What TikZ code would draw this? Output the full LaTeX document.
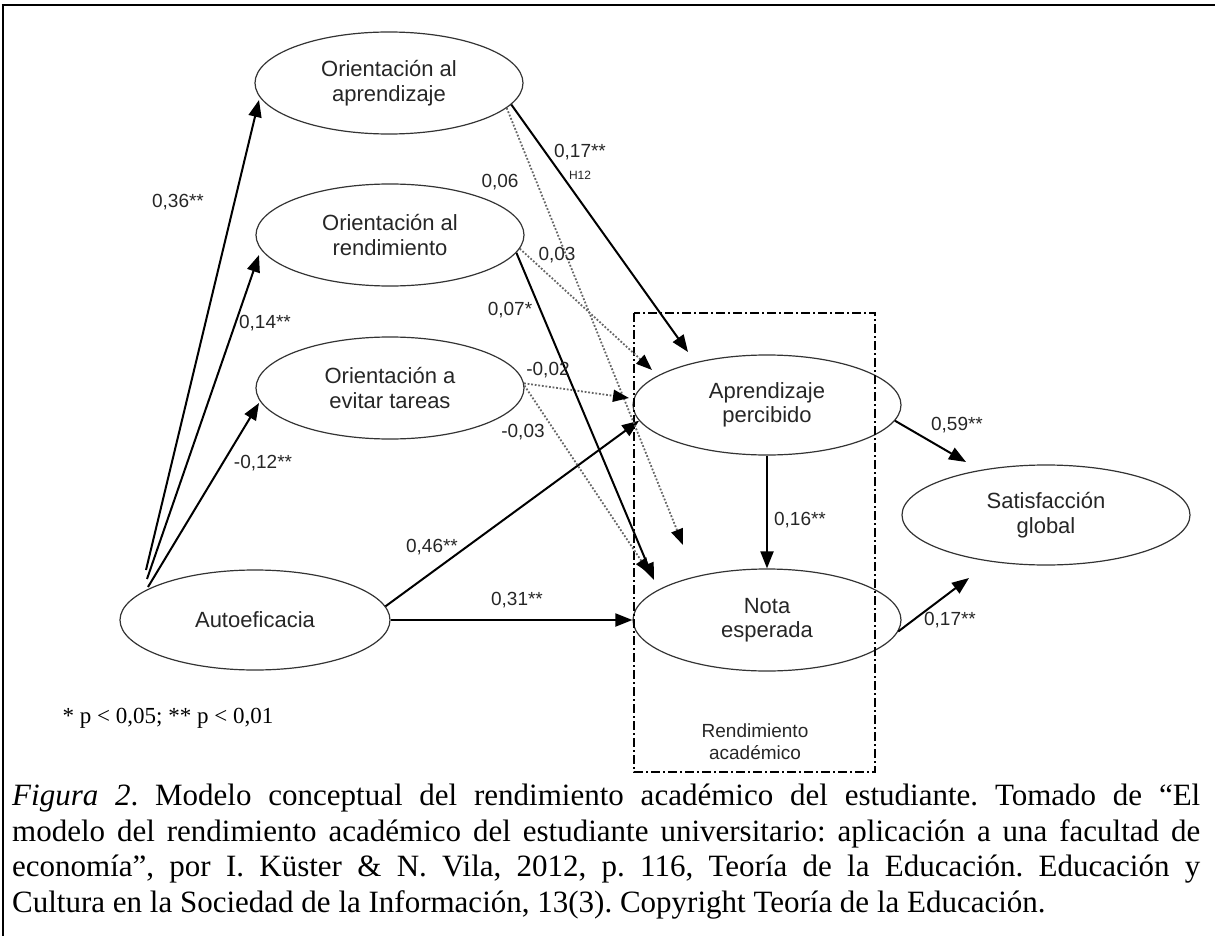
\documentclass[tikz,border=0pt]{standalone}
\usepackage{fontspec}
\setmainfont{Liberation Serif}
\newfontfamily\arialf{Liberation Sans}
\usetikzlibrary{arrows.meta,shapes.geometric}
\frenchspacing
\begin{document}
\begin{tikzpicture}[x=1pt,y=-1pt,
  ell/.style={draw=black!80, line width=1.2pt, ellipse, inner sep=0pt,
    minimum width=268pt, minimum height=102pt, align=center,
    font=\arialf\fontsize{22}{24.5}\selectfont, text=black!85},
  lbl/.style={font=\arialf\fontsize{19}{21}\selectfont, text=black!85, inner sep=0pt},
  solidarrow/.style={line width=2pt, draw=black, -{Triangle[length=17pt,width=13pt]}},
  dotarrow/.style={line width=1.8pt, draw=black!60, dash pattern=on 1.8pt off 1.8pt,
    -{Triangle[length=16pt,width=12pt,color=black]}},
  regionbox/.style={draw=black, line width=1.2pt, dash pattern=on 9pt off 3pt on 2pt off 3pt}
]
\useasboundingbox (0,0) rectangle (1215,936);
% frame
\draw[line width=2.6pt] (1.5,5) -- (1215,5);
\draw[line width=2pt] (3,5) -- (3,936);

% ellipses
\node[ell] (o1) at (389,83) {Orientación al\\aprendizaje};
\node[ell] (o2) at (390,235) {Orientación al\\rendimiento};
\node[ell] (o3) at (390,388) {Orientación a\\evitar tareas};
\node[ell, minimum width=270pt, minimum height=100pt] (auto) at (255,620) {Autoeficacia};
\node[ell, minimum height=100pt] (apr) at (767,405) {Aprendizaje\\percibido};
\node[ell] (nota) at (767,620) {Nota\\esperada};
\node[ell, minimum width=288pt, minimum height=100pt] (sat) at (1046,515) {Satisfacción\\global};

% dash-dot region
\draw[regionbox] (634,313) rectangle (875,772);
\node[font=\arialf\fontsize{19}{22}\selectfont, align=center, text=black!85] (rend) at (755,742) {Rendimiento\\académico};

% start/end coordinates
\coordinate (s1) at (146,570);
\coordinate (s2) at (147,579);
\coordinate (s3) at (148,587);
\coordinate (e1) at (259,100);
\coordinate (e2) at (259,255);
\coordinate (e3) at (259,403);
\coordinate (tA) at (688,352);
\coordinate (tB) at (683,545);
\coordinate (tC) at (652,370);
\coordinate (tD) at (654,580);
\coordinate (tE) at (629,398);
\coordinate (tF) at (650,574);
\coordinate (tG) at (966,462);
\coordinate (tH) at (969,578);

% autoeficacia arrows
\draw[solidarrow] (s1) -- (e1);
\draw[solidarrow] (s2) -- (e2);
\draw[solidarrow] (s3) -- (e3);
\draw[solidarrow] (auto.6) -- (apr.187);
\draw[solidarrow] (auto.east) -- (nota.west);

% dotted arrows
\draw[dotarrow] (o1.-12) -- (tB);
\draw[dotarrow] (o2.-6) -- (tC);
\draw[dotarrow] (o3.2) -- (tE);
\draw[dotarrow] (o3.1) -- (tF);

% solid arrows from orientations
\draw[solidarrow] (o1.-10) -- (tA);
\draw[solidarrow] (o2.-8) -- (tD);

% outcomes
\draw[solidarrow] (apr.south) -- (nota.north);
\draw[solidarrow] (apr.-7) -- (tG);
\draw[solidarrow] (nota.-5) -- (tH);

% labels
\node[lbl] (l1) at (178,202) {0,36**};
\node[lbl] (l2) at (265,323) {0,14**};
\node[lbl] (l3) at (263,463) {-0,12**};
\node[lbl] (l4) at (580,152) {0,17**};
\node[lbl, font=\arialf\fontsize{12}{14}\selectfont] (l4b) at (580,175) {H12};
\node[lbl] (l5) at (500,182) {0,06};
\node[lbl] (l6) at (557,255) {0,03};
\node[lbl] (l7) at (510,310) {0,07*};
\node[lbl] (l8) at (548,370) {-0,02};
\node[lbl] (l9) at (523,432) {-0,03};
\node[lbl] (l10) at (432,547) {0,46**};
\node[lbl] (l11) at (517,600) {0,31**};
\node[lbl] (l12) at (800,520) {0,16**};
\node[lbl] (l13) at (957,425) {0,59**};
\node[lbl] (l14) at (950,620) {0,17**};

% legend
\node[font=\fontsize{23}{26}\selectfont, inner sep=0pt] (legend) at (168,718) {* p < 0,05; ** p < 0,01};

% caption
\node[anchor=north west, text width=1188pt, align=justify, inner sep=0pt,
  font=\fontsize{31}{35.5}\selectfont] (caption) at (12,784)
{\textit{Figura 2}. Modelo conceptual del rendimiento académico del estudiante. Tomado de “El\linebreak
modelo del rendimiento académico del estudiante universitario: aplicación a una facultad de\linebreak
economía”, por I. Küster \& N. Vila, 2012, p. 116, Teoría de la Educación. Educación y\linebreak
Cultura en la Sociedad de la Información, 13(3). Copyright Teoría de la Educación.};
\end{tikzpicture}
\end{document}
